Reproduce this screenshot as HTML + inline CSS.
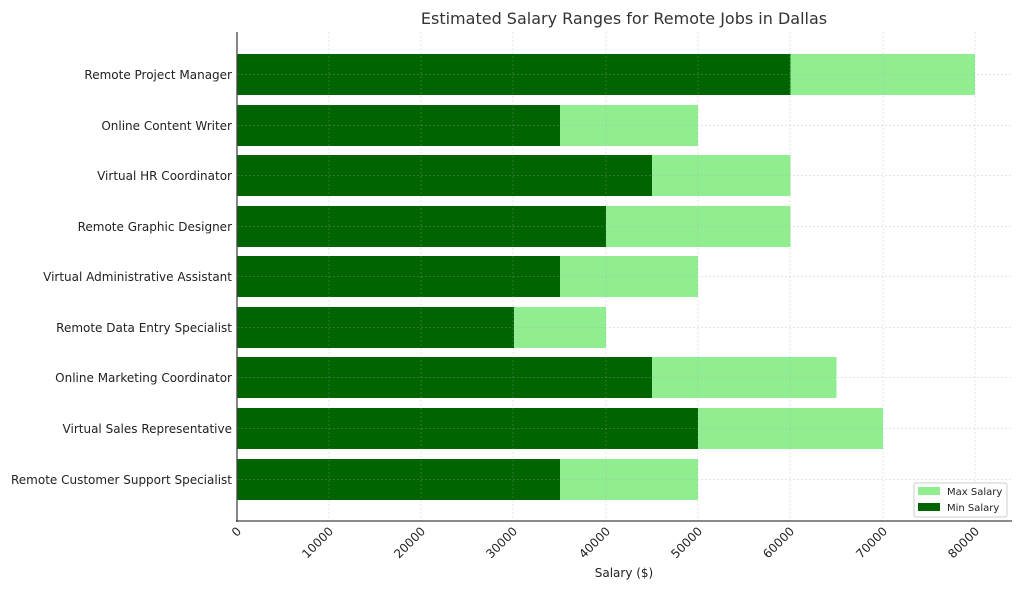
<!DOCTYPE html>
<html><head><style>body{margin:0;background:#fff}svg{display:block}</style></head><body>
<svg width="1024" height="594" xmlns="http://www.w3.org/2000/svg" font-family="DejaVu Sans, Liberation Sans, sans-serif">
<rect width="1024" height="594" fill="#fff"/>
<text x="624" y="24" text-anchor="middle" font-size="16" fill="#333">Estimated Salary Ranges for Remote Jobs in Dallas</text>
<g id="bars">
<rect x="237" y="54" width="738" height="41" fill="#90ee90"/><rect x="237" y="54" width="553.5" height="41" fill="#006400"/>
<rect x="237" y="105" width="461" height="41" fill="#90ee90"/><rect x="237" y="105" width="323" height="41" fill="#006400"/>
<rect x="237" y="155" width="553.5" height="41" fill="#90ee90"/><rect x="237" y="155" width="415" height="41" fill="#006400"/>
<rect x="237" y="206" width="553.5" height="41" fill="#90ee90"/><rect x="237" y="206" width="369" height="41" fill="#006400"/>
<rect x="237" y="256" width="461" height="41" fill="#90ee90"/><rect x="237" y="256" width="323" height="41" fill="#006400"/>
<rect x="237" y="307" width="369" height="41" fill="#90ee90"/><rect x="237" y="307" width="277" height="41" fill="#006400"/>
<rect x="237" y="357" width="599.5" height="41" fill="#90ee90"/><rect x="237" y="357" width="415" height="41" fill="#006400"/>
<rect x="237" y="408" width="646" height="41" fill="#90ee90"/><rect x="237" y="408" width="461" height="41" fill="#006400"/>
<rect x="237" y="459" width="461" height="41" fill="#90ee90"/><rect x="237" y="459" width="323" height="41" fill="#006400"/>
</g>
<g stroke="#aaa" stroke-width="0.5" stroke-dasharray="2,2" opacity="0.6">
<line x1="329" y1="32" x2="329" y2="521"/><line x1="421" y1="32" x2="421" y2="521"/><line x1="513" y1="32" x2="513" y2="521"/><line x1="606" y1="32" x2="606" y2="521"/><line x1="698" y1="32" x2="698" y2="521"/><line x1="790" y1="32" x2="790" y2="521"/><line x1="883" y1="32" x2="883" y2="521"/><line x1="975" y1="32" x2="975" y2="521"/>
<line x1="237" y1="74.5" x2="1012" y2="74.5"/><line x1="237" y1="125.5" x2="1012" y2="125.5"/><line x1="237" y1="175.5" x2="1012" y2="175.5"/><line x1="237" y1="226.5" x2="1012" y2="226.5"/><line x1="237" y1="276.5" x2="1012" y2="276.5"/><line x1="237" y1="327.5" x2="1012" y2="327.5"/><line x1="237" y1="377.5" x2="1012" y2="377.5"/><line x1="237" y1="428.5" x2="1012" y2="428.5"/><line x1="237" y1="479.5" x2="1012" y2="479.5"/>
</g>
<line x1="237" y1="32" x2="237" y2="522" stroke="#444" stroke-width="1.3"/>
<line x1="236" y1="521" x2="1012" y2="521" stroke="#444" stroke-width="1.3"/>
<g font-size="12" fill="#222" text-anchor="end">
<text x="232" y="79">Remote Project Manager</text>
<text x="232" y="130">Online Content Writer</text>
<text x="232" y="180">Virtual HR Coordinator</text>
<text x="232" y="231">Remote Graphic Designer</text>
<text x="232" y="281">Virtual Administrative Assistant</text>
<text x="232" y="332">Remote Data Entry Specialist</text>
<text x="232" y="382">Online Marketing Coordinator</text>
<text x="232" y="433">Virtual Sales Representative</text>
<text x="232" y="484">Remote Customer Support Specialist</text>
</g>
<g font-size="12" fill="#222" text-anchor="end">
<text transform="translate(242,532) rotate(-45)">0</text>
<text transform="translate(334,532) rotate(-45)">10000</text>
<text transform="translate(426,532) rotate(-45)">20000</text>
<text transform="translate(518,532) rotate(-45)">30000</text>
<text transform="translate(611,532) rotate(-45)">40000</text>
<text transform="translate(703,532) rotate(-45)">50000</text>
<text transform="translate(795,532) rotate(-45)">60000</text>
<text transform="translate(888,532) rotate(-45)">70000</text>
<text transform="translate(980,532) rotate(-45)">80000</text>
</g>
<text x="624" y="577" text-anchor="middle" font-size="12" fill="#222">Salary ($)</text>
<rect x="914" y="483" width="93" height="34" fill="#fff" stroke="#ccc" stroke-width="1" rx="2"/>
<rect x="918" y="487" width="22" height="8" fill="#90ee90"/>
<rect x="918" y="503" width="22" height="8" fill="#006400"/>
<text x="947" y="495" font-size="10" fill="#222">Max Salary</text>
<text x="947" y="511" font-size="10" fill="#222">Min Salary</text>
</svg>
</body></html>
